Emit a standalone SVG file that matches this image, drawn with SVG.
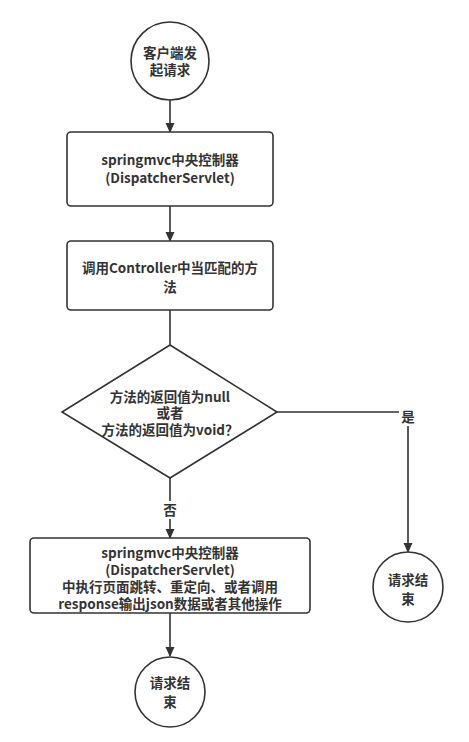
<svg xmlns="http://www.w3.org/2000/svg" width="469" height="742" viewBox="0 0 469 742">
<style>
.shape{fill:#fff;stroke:#333;stroke-width:1.6}
.t{font-family:"Microsoft YaHei","Noto Sans CJK SC","Noto Sans",sans-serif;font-size:13.5px;font-weight:bold;fill:#333;text-anchor:middle}
.line{fill:none;stroke:#333;stroke-width:1.6}
</style>
<defs>
<marker id="arr" markerWidth="10" markerHeight="10" refX="9" refY="5" orient="auto" markerUnits="userSpaceOnUse">
<path d="M0,0.5 L10,5 L0,9.5 Z" fill="#333"/>
</marker>
</defs>
<rect width="469" height="742" fill="#fff"/>
<g id="connectors">
<path class="line" d="M170,100 V132" marker-end="url(#arr)"/>
<path class="line" d="M170,206 V241" marker-end="url(#arr)"/>
<path class="line" d="M170,310 V345"/>
<path class="line" d="M170,478 V538" marker-end="url(#arr)"/>
<path class="line" d="M277,412 H408 V552" marker-end="url(#arr)"/>
<path class="line" d="M170,613 V656" marker-end="url(#arr)"/>
<rect x="161" y="501" width="18" height="18" fill="#fff"/>
<text class="t" x="170" y="515">否</text>
<rect x="399" y="408" width="18" height="18" fill="#fff"/>
<text class="t" x="408" y="422">是</text>
</g>
<g id="start">
<circle class="shape" cx="170" cy="61" r="39"/>
<text class="t" x="170" y="58">客户端发</text>
<text class="t" x="170" y="75">起请求</text>
</g>
<g id="dispatcher1">
<rect class="shape" x="67" y="132" width="206" height="74" rx="4"/>
<text class="t" x="170" y="165">springmvc中央控制器</text>
<text class="t" x="170" y="183">(DispatcherServlet)</text>
</g>
<g id="controller">
<rect class="shape" x="67" y="241" width="206" height="69" rx="4"/>
<text class="t" x="170" y="273">调用Controller中当匹配的方</text>
<text class="t" x="170" y="292">法</text>
</g>
<g id="decision">
<path class="shape" d="M170,345 L277,412 L170,478 L62,412 Z"/>
<text class="t" x="170" y="402">方法的返回值为null</text>
<text class="t" x="170" y="418">或者</text>
<text class="t" x="170" y="435">方法的返回值为void？</text>
</g>
<g id="dispatcher2">
<rect class="shape" x="30" y="538" width="280" height="75" rx="4"/>
<text class="t" x="170" y="558">springmvc中央控制器</text>
<text class="t" x="170" y="575">(DispatcherServlet)</text>
<text class="t" x="170" y="592">中执行页面跳转、重定向、或者调用</text>
<text class="t" x="170" y="609">response输出json数据或者其他操作</text>
</g>
<g id="end-right">
<circle class="shape" cx="408" cy="587" r="35"/>
<text class="t" x="408" y="585">请求结</text>
<text class="t" x="408" y="604">束</text>
</g>
<g id="end-bottom">
<circle class="shape" cx="170" cy="692" r="35"/>
<text class="t" x="170" y="688">请求结</text>
<text class="t" x="170" y="707">束</text>
</g>
</svg>
